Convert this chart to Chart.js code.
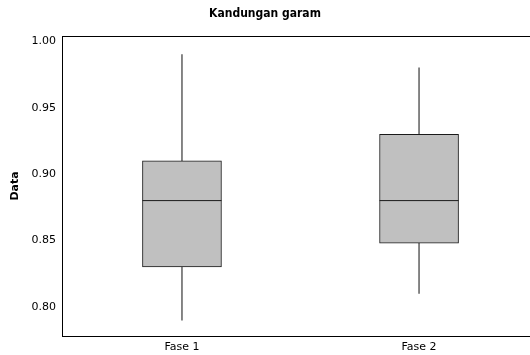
<!DOCTYPE html>
<html>
<head>
<meta charset="utf-8">
<script src="https://cdn.jsdelivr.net/npm/chart.js@4.4.0/dist/chart.umd.min.js"></script>
<style>
  html, body { margin: 0; padding: 0; background: #fff; overflow: hidden; }
  canvas { display: block; }
</style>
</head>
<body>
<canvas id="boxChart" width="530" height="355"></canvas>
<script>
// boxplot values
const categories = ["Fase 1", "Fase 2"];
const whiskerLow = [0.79, 0.81];
const q1 = [0.83, 0.848];
const median = [0.88, 0.88];
const q3 = [0.91, 0.93];
const whiskerHigh = [0.99, 0.98];
const yTicks = [0.80, 0.85, 0.90, 0.95, 1.00];

const font = "'DejaVu Sans', Verdana, sans-serif";

// top edge of the frame (right edge runs off the picture)
const framePlugin = {
  id: 'frame',
  afterDraw(chart) {
    const a = chart.chartArea, ctx = chart.ctx;
    ctx.save();
    ctx.strokeStyle = '#000';
    ctx.lineWidth = 1;
    ctx.beginPath();
    ctx.moveTo(a.left, a.top + 0.5);
    ctx.lineTo(a.right, a.top + 0.5);
    ctx.stroke();
    ctx.restore();
  }
};

new Chart(document.getElementById("boxChart"), {
  data: {
    datasets: [
      {
        type: 'bar',
        label: 'whisker',
        data: categories.map((c, i) => ({ x: i + 1, y: [whiskerLow[i], whiskerHigh[i]] })),
        backgroundColor: '#6e6e6e',
        barThickness: 1,
        grouped: false,
        order: 3
      },
      {
        type: 'bar',
        label: 'box',
        data: categories.map((c, i) => ({ x: i + 1, y: [q1[i], q3[i]] })),
        backgroundColor: '#c0c0c0',
        borderColor: '#1a1a1a',
        borderWidth: 1,
        borderSkipped: false,
        barThickness: 79,
        grouped: false,
        order: 2
      },
      {
        type: 'scatter',
        label: 'median',
        data: categories.map((c, i) => ({ x: i + 1, y: median[i] })),
        pointStyle: 'line',
        pointRadius: 39.5,
        pointHoverRadius: 39.5,
        borderColor: '#1a1a1a',
        borderWidth: 1,
        order: 1
      }
    ]
  },
  options: {
    responsive: false,
    animation: false,
    devicePixelRatio: 1,
    layout: { padding: 0, autoPadding: false },
    plugins: {
      legend: { display: false },
      tooltip: { enabled: false },
      title: {
        display: true,
        text: 'Kandungan garam',
        color: '#000',
        font: { family: "'DejaVu Sans Condensed', 'DejaVu Sans', sans-serif", size: 12, weight: 'bold' },
        padding: { top: 7, bottom: 14.6 }
      }
    },
    scales: {
      x: {
        type: 'linear',
        offset: false,
        min: 0.494,
        max: 2.468,
        grid: { display: false, drawTicks: true, tickLength: 4, tickColor: '#000' },
        border: { color: '#000', width: 1 },
        afterBuildTicks(axis) {
          axis.ticks = categories.map((c, i) => ({ value: i + 1 }));
        },
        afterFit(axis) { axis.height = 19; },
        ticks: {
          color: '#000',
          padding: 1,
          maxRotation: 0,
          font: { family: font, size: 11 },
          callback: (v) => categories[Math.round(v) - 1]
        }
      },
      y: {
        min: 0.778,
        max: 1.004,
        grid: { display: false, drawTicks: true, tickLength: 4, tickColor: '#000' },
        border: { color: '#000', width: 1 },
        afterBuildTicks(axis) {
          axis.ticks = yTicks.map(v => ({ value: v }));
        },
        afterFit(axis) { axis.width = 62; },
        title: {
          display: true,
          text: 'Data',
          color: '#000',
          font: { family: font, size: 11, weight: 'bold' },
          padding: { top: 9, bottom: 0 }
        },
        ticks: {
          color: '#000',
          padding: 2,
          font: { family: font, size: 11 },
          callback: (v) => v.toFixed(2)
        }
      }
    }
  },
  plugins: [framePlugin]
});
</script>
</body>
</html>
